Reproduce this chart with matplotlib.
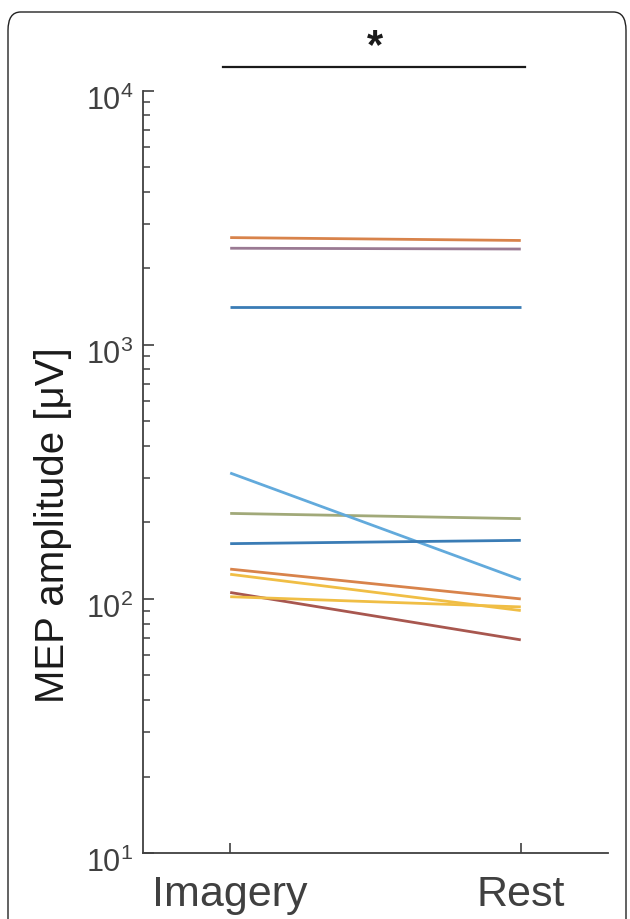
import numpy as np
import matplotlib
matplotlib.use("Agg")
import matplotlib.pyplot as plt
import matplotlib.transforms as mtransforms
from matplotlib.patches import FancyBboxPatch

plt.rcParams['font.family'] = ['Liberation Sans', 'DejaVu Sans']
plt.rcParams['mathtext.fontset'] = 'custom'
plt.rcParams['mathtext.rm'] = 'Liberation Sans'

# Conditions and per-subject MEP amplitudes (µV)
conditions = ['Imagery', 'Rest']
imagery = [1415, 2642, 125, 2399, 217, 313, 106, 165, 131, 102]
rest = [1415, 2574, 90, 2382, 207, 119, 69, 170, 100, 93]
line_colors = ['#3a7cb5', '#d8834b', '#f0be45', '#9a7a93', '#a1a979',
               '#62aadc', '#a8574f', '#3a7cb5', '#d8834b', '#f0be45']

fig = plt.figure(figsize=(6.3, 9.19), dpi=100)
ax = fig.add_axes([0.227, 0.0718, 0.738, 0.8295])

x = np.arange(1, len(conditions) + 1)
for a, b, c in zip(imagery, rest, line_colors):
    ax.plot(x, [a, b], color=c, lw=2.0, solid_capstyle='butt')

ax.set_yscale('log')
ax.set_ylim(10, 1e4)
ax.set_xlim(0.7, 2.3)
ax.set_xticks(x)
ax.set_xticklabels(conditions)
ax.set_yticks([10, 100, 1000, 10000])

gray = '#404040'
ax.spines['top'].set_visible(False)
ax.spines['right'].set_visible(False)
for s in ['left', 'bottom']:
    ax.spines[s].set_color(gray)
    ax.spines[s].set_linewidth(1.3)
ax.tick_params(axis='both', which='both', direction='in', colors=gray)
ax.tick_params(axis='y', which='major', length=8, width=1.2, labelsize=22, pad=7)
ax.tick_params(axis='y', which='minor', length=5, width=1.1)
ax.tick_params(axis='x', which='major', length=7, width=1.2, labelsize=31, pad=16)

# MATLAB-style: the tick labels sit a little below their ticks
shift = mtransforms.ScaledTranslation(0, -7 / 100, fig.dpi_scale_trans)
for tick in ax.yaxis.get_major_ticks():
    tick.label1.set_transform(tick.label1.get_transform() + shift)

ax.set_ylabel('MEP amplitude [μV]', fontsize=29, color='#1a1a1a')
ax.yaxis.set_label_coords(-0.152, 0.43)

# significance bar
ax.plot([0.976, 2.014], [12400, 12400], color='#1a1a1a', lw=1.6, clip_on=False)
ax.text(1.5, 14800, '*', ha='center', va='center', fontsize=30,
        fontweight='bold', color='#1a1a1a', clip_on=False)

# rounded frame around the panel
frame = FancyBboxPatch((8 / 630, -0.05), 618 / 630, 1 - 12 / 919 + 0.05,
                       boxstyle='round,pad=0,rounding_size=0.02',
                       transform=fig.transFigure, fill=False,
                       edgecolor='#222222', lw=1.0)
fig.patches.append(frame)

fig.savefig('out.png', dpi=100)
